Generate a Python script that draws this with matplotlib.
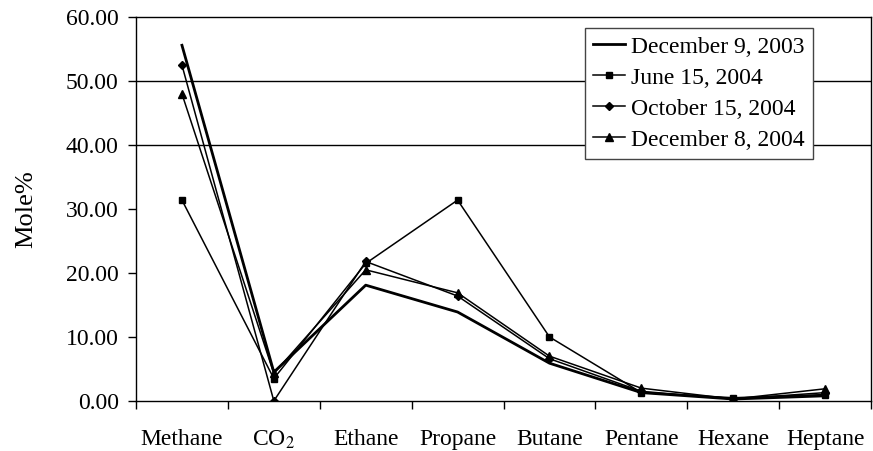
import numpy as np
from matplotlib import pyplot as plt

plt.rcParams['font.family'] = ['Liberation Serif', 'DejaVu Serif']
plt.rcParams['mathtext.fontset'] = 'stix'

components = ['Methane', 'CO$_2$', 'Ethane', 'Propane', 'Butane', 'Pentane', 'Hexane', 'Heptane']

dec_2003 = [55.6, 4.5, 18.1, 13.9, 5.9, 1.3, 0.3, 0.8]
jun_2004 = [31.4, 3.5, 21.5, 31.4, 10.0, 1.3, 0.5, 1.0]
oct_2004 = [52.5, 0.0, 21.8, 16.4, 6.6, 1.5, 0.3, 1.3]
dec_2004 = [48.0, 4.3, 20.5, 16.9, 7.0, 2.0, 0.3, 1.9]

x = np.arange(len(components))

fig = plt.figure(figsize=(8.73, 4.51), dpi=100)
ax = fig.add_axes([0.1558, 0.111, 0.842, 0.851])

ax.axhline(40, color='black', lw=1.0, zorder=0)
ax.axhline(50, color='black', lw=1.0, zorder=0)

ax.plot(x, dec_2003, color='black', lw=2.0, label='December 9, 2003')
ax.plot(x, jun_2004, color='black', lw=1.1, marker='s', ms=5, label='June 15, 2004')
ax.plot(x, oct_2004, color='black', lw=1.1, marker='D', ms=4.2, label='October 15, 2004')
ax.plot(x, dec_2004, color='black', lw=1.1, marker='^', ms=5.5, label='December 8, 2004')

ax.set_xlim(-0.5, len(components) - 0.5)
ax.set_ylim(0, 60)
ax.set_yticks(np.arange(0, 61, 10))
ax.set_yticklabels([f'{v:.2f}' for v in np.arange(0, 61, 10)], fontsize=17)
ax.set_xticks(x)
ax.set_xticklabels(components, fontsize=17)
ax.set_xticks(np.arange(-0.5, len(components), 1), minor=True)
ax.tick_params(axis='x', which='major', length=0, pad=20)
ax.tick_params(axis='x', which='minor', length=5.5, direction='out', width=1)
ax.tick_params(axis='y', length=5.5, direction='out', width=1, pad=7)

for s in ax.spines.values():
    s.set_linewidth(1.0)

ax.set_ylabel('Mole%', fontsize=19)
ax.yaxis.set_label_coords(-0.135, 0.5)

leg = ax.legend(loc='upper left', bbox_to_anchor=(0.611, 0.972), fontsize=17,
                handlelength=1.35, handletextpad=0.25, borderpad=0.35,
                labelspacing=0.4, fancybox=False, framealpha=1,
                borderaxespad=0)
leg.get_frame().set_edgecolor('#444444')
leg.get_frame().set_linewidth(1.0)

fig.savefig('out.png', dpi=100)
